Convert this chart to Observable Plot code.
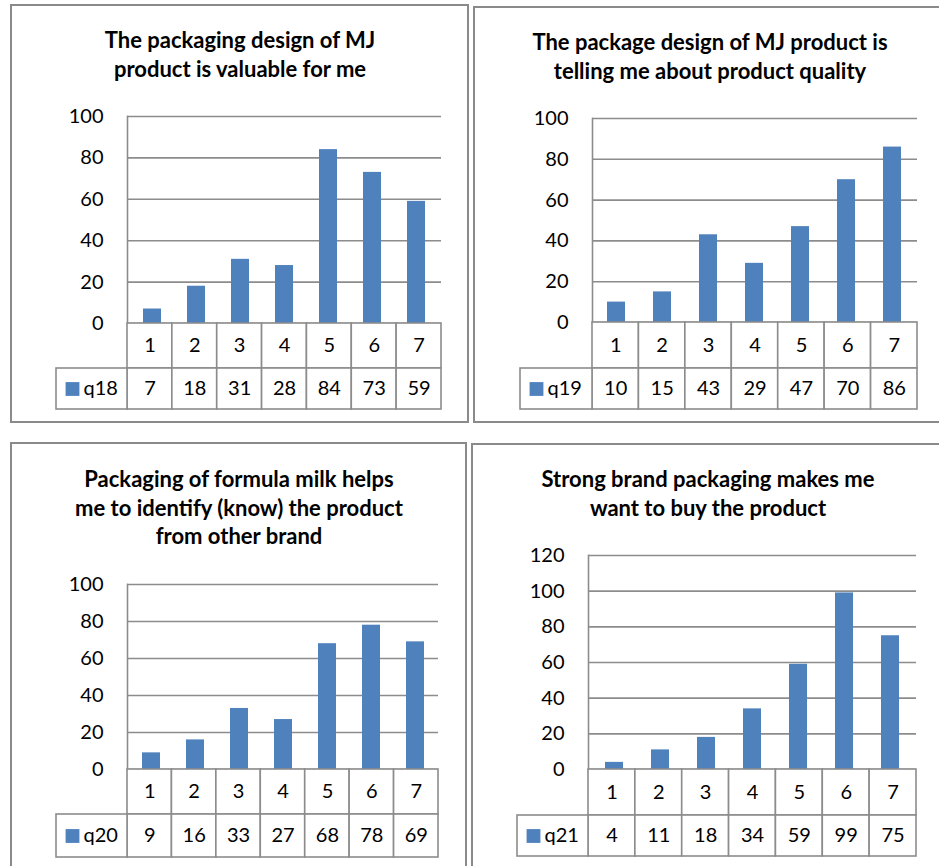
<!DOCTYPE html>
<html>
<head>
<meta charset="utf-8">
<script src="https://cdn.jsdelivr.net/npm/d3@7"></script>
<script src="https://cdn.jsdelivr.net/npm/@observablehq/plot@0.6"></script>
<style>
  html, body { margin: 0; padding: 0; background: #fff; }
  body { position: relative; width: 939px; height: 866px; overflow: hidden; font-family: Lato, "Open Sans", sans-serif; }
  .panel { position: absolute; border: 2px solid #8a8a8a; box-sizing: border-box; background: #fff; }
  .title { position: absolute; width: 440px; text-align: center; font-weight: bold; font-size: 22px; line-height: 28.5px; color: #000; }
  .abs { position: absolute; }
  svg { overflow: visible; }
</style>
</head>
<body>
<script>
// Likert response categories (1 = strongly disagree ... 7 = strongly agree)
const categories = [1, 2, 3, 4, 5, 6, 7];

// Response counts per question
const q18 = [7, 18, 31, 28, 84, 73, 59];
const q19 = [10, 15, 43, 29, 47, 70, 86];
const q20 = [9, 16, 33, 27, 68, 78, 69];
const q21 = [4, 11, 18, 34, 59, 99, 75];

const seriesNames = ["q18", "q19", "q20", "q21"];

const titles = [
  ["The packaging design of MJ", "product is valuable for me"],
  ["The package design of MJ product is", "telling me about product quality"],
  ["Packaging of formula milk helps", "me to identify (know) the product", "from other brand"],
  ["Strong brand packaging makes me", "want to buy the product"]
];

// Y-axis ticks
const ticks100 = [0, 20, 40, 60, 80, 100];
const ticks120 = [0, 20, 40, 60, 80, 100, 120];

// Page layout of the four chart boxes (pixels)
const layout = [
  {box: [10, 4, 469, 423], titleX: 240, titleY: 26, legendLeft: 56, plotLeft: 127, plotRight: 441, yTop: 116, y0: 323, rowH: [45, 41], yMax: 100, ticks: ticks100},
  {box: [473, 6, 960, 423], titleX: 710, titleY: 28, legendLeft: 520, plotLeft: 592, plotRight: 917, yTop: 118, y0: 322, rowH: [46, 41], yMax: 100, ticks: ticks100},
  {box: [10, 442, 467, 900], titleX: 239, titleY: 465, legendLeft: 56, plotLeft: 127, plotRight: 438, yTop: 584, y0: 769, rowH: [45, 43], yMax: 100, ticks: ticks100},
  {box: [471, 443, 960, 900], titleX: 708, titleY: 465, legendLeft: 517, plotLeft: 588, plotRight: 916, yTop: 555, y0: 769, rowH: [46, 41], yMax: 120, ticks: ticks120}
];

const series = [q18, q19, q20, q21];
const barColor = "#4F81BD";
const lineColor = "#8c8c8c";
const fontStyle = {fontFamily: "Lato, 'Open Sans', sans-serif", fontSize: "20px", color: "#000", background: "transparent"};

function place(el, left, top) {
  el.classList.add("abs");
  el.style.left = left + "px";
  el.style.top = top + "px";
  document.body.appendChild(el);
}

layout.forEach((L, k) => {
  const values = series[k];
  const name = seriesNames[k];
  const rows = categories.map((c, i) => ({c, v: values[i]}));

  // frame box
  const box = document.createElement("div");
  box.className = "panel";
  box.style.left = L.box[0] + "px";
  box.style.top = L.box[1] + "px";
  box.style.width = (L.box[2] - L.box[0]) + "px";
  box.style.height = (L.box[3] - L.box[1]) + "px";
  document.body.appendChild(box);

  // title
  const t = document.createElement("div");
  t.className = "title";
  t.innerHTML = titles[k].join("<br>");
  t.style.left = (L.titleX - 220) + "px";
  t.style.top = L.titleY + "px";
  document.body.appendChild(t);

  const padTop = 12, padBottom = 2, padRight = 12;
  const width = L.plotRight - L.legendLeft + padRight;

  // column chart
  const chart = Plot.plot({
    width,
    height: (L.y0 - L.yTop) + padTop + padBottom,
    marginLeft: L.plotLeft - L.legendLeft,
    marginRight: padRight,
    marginTop: padTop,
    marginBottom: padBottom,
    style: fontStyle,
    x: {domain: categories, paddingInner: 0.6, paddingOuter: 0.3, axis: null},
    y: {domain: [0, L.yMax], axis: null},
    marks: [
      Plot.gridY(L.ticks, {stroke: lineColor, strokeOpacity: 1, strokeWidth: 1.6}),
      Plot.frame({anchor: "left", stroke: lineColor, strokeWidth: 1.6}),
      Plot.barY(rows, {x: "c", y: "v", fill: barColor}),
      Plot.axisY(L.ticks, {tickSize: 0, tickPadding: 24, fontSize: 20, fill: "#000", label: null})
    ]
  });
  place(chart, L.legendLeft, L.yTop - padTop);

  // data table beneath the chart (category row + value row with legend key)
  const step = (L.plotRight - L.plotLeft) / categories.length;
  const keyW = (L.plotLeft - L.legendLeft) / step;
  const x0 = categories[0] - 0.5 - keyW;
  const split = L.rowH[0], total = L.rowH[0] + L.rowH[1];
  const table = Plot.plot({
    width,
    height: total + 2,
    marginLeft: 0,
    marginRight: padRight,
    marginTop: 1,
    marginBottom: 1,
    style: fontStyle,
    x: {domain: [x0, categories[categories.length - 1] + 0.5], axis: null},
    y: {domain: [0, total], reverse: true, axis: null},
    marks: [
      Plot.rect(categories, {x1: c => c - 0.5, x2: c => c + 0.5, y1: 0, y2: split, fill: "#fff", stroke: lineColor, strokeWidth: 1.6}),
      Plot.rect(categories, {x1: c => c - 0.5, x2: c => c + 0.5, y1: split, y2: total, fill: "#fff", stroke: lineColor, strokeWidth: 1.6}),
      Plot.rect([name], {x1: x0, x2: categories[0] - 0.5, y1: split, y2: total, fill: "#fff", stroke: lineColor, strokeWidth: 1.6}),
      Plot.text(categories, {x: c => c, y: split / 2, text: c => String(c), fontSize: 20, fill: "#000"}),
      Plot.text(rows, {x: "c", y: split + (total - split) / 2, text: d => String(d.v), fontSize: 20, fill: "#000"}),
      Plot.dot([name], {x: x0, y: split + (total - split) / 2, dx: 16, symbol: "square", r: 7.8, fill: barColor, stroke: null}),
      Plot.text([name], {x: x0, y: split + (total - split) / 2, dx: 27, text: d => d, textAnchor: "start", fontSize: 20, fill: "#000"})
    ]
  });
  place(table, L.legendLeft, L.y0 - 1);
});
</script>
</body>
</html>
